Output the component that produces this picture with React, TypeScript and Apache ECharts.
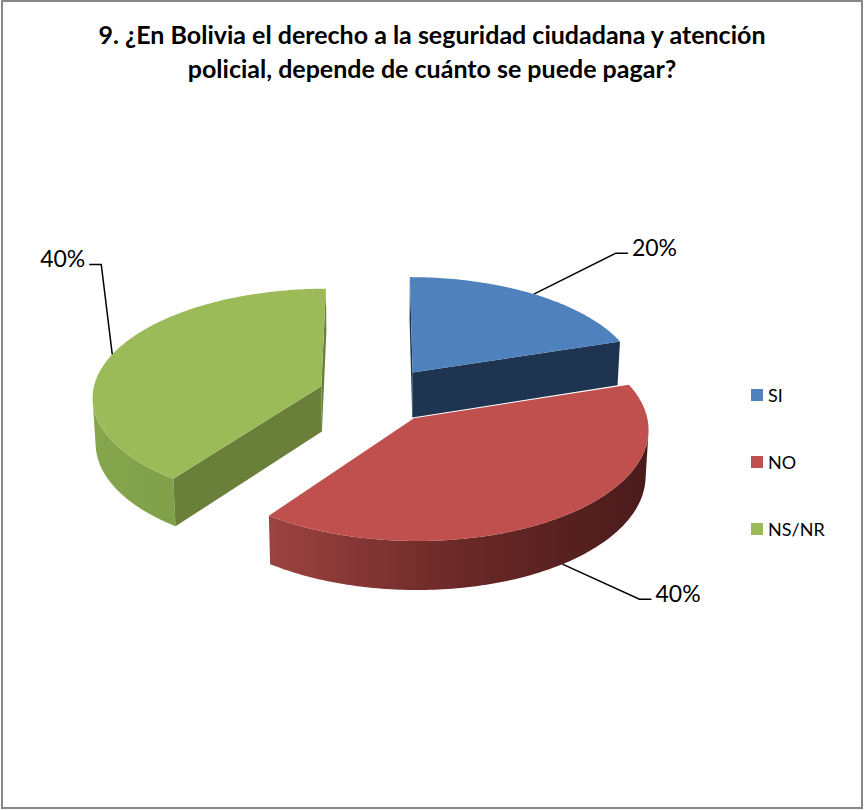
import React, { useEffect, useRef } from 'react';
import * as echarts from 'echarts';

// ---- data ----
const categories = ['SI', 'NO', 'NS/NR'];
const values = [20, 40, 40];
const titleLines = [
  '9. ¿En Bolivia el derecho a la seguridad ciudadana y atención',
  'policial, depende de cuánto se puede pagar?',
];

// ---- style ----
const topColors = ['#4F81BD', '#C0504D', '#9BBB59'];
const sideStops = [
  ['#3B6190', '#22395A'],
  ['#9C4341', '#6A2927', '#4A1B1B'],
  ['#86A64D', '#80A049'],
];
const cutColors = ['#1F3450', '#7A2F2D', '#6A7F3A'];
// leader elbow offsets from anchor, and horizontal direction
const labelElbow = [
  [82, -41, 1],
  [77, 35, 1],
  [-11, -90, -1],
];

const FONT = 'Lato, "Open Sans", "Noto Sans", sans-serif';
const X0 = 378;
const Y0 = 395;
const R = 229;
const EXPLODE = 60;
const DEPTH = 52;
const SIN_A = 0.47;
const COS_A = Math.sqrt(1 - SIN_A * SIN_A);
const PERSP = 2300;

function project(x: number, y: number, z: number): number[] {
  const yv = y * COS_A - z * SIN_A;
  const zv = y * SIN_A + z * COS_A;
  const s = PERSP / (PERSP - zv);
  return [X0 + x * s, Y0 - yv * s];
}

const total = values.reduce((a, b) => a + b, 0);

function makeRenderer(i: number) {
  return function renderItem(params: any, api: any) {
    const v = api.value(0);
    let before = 0;
    for (let j = 0; j < i; j++) before += values[j];
    const a0 = (before / total) * Math.PI * 2;
    const a1 = ((before + v) / total) * Math.PI * 2;
    const mid = (a0 + a1) / 2;
    const ox = EXPLODE * Math.sin(mid);
    const oz = -EXPLODE * Math.cos(mid);
    const rim = (t: number, y: number) => project(ox + R * Math.sin(t), y, oz - R * Math.cos(t));
    const ctrTop = project(ox, 0, oz);
    const ctrBot = project(ox, -DEPTH, oz);
    const camZ = PERSP * COS_A;
    const children: any[] = [];

    // outer curved side
    const steps = Math.max(8, Math.round(((a1 - a0) * 180) / Math.PI));
    const vis = (t: number) => -ox * Math.sin(t) - Math.cos(t) * (camZ - oz) > R;
    let run: number[] = [];
    const flush = () => {
      if (run.length >= 2) {
        const pts: number[][] = [];
        run.forEach((t) => pts.push(rim(t, 0)));
        for (let k = run.length - 1; k >= 0; k--) pts.push(rim(run[k], -DEPTH));
        const stops = sideStops[i];
        children.push({
          type: 'polygon',
          shape: { points: pts },
          style: {
            fill: {
              type: 'linear', x: 0, y: 0, x2: 1, y2: 0, global: false,
              colorStops: stops.map((c, k) => ({ offset: k / (stops.length - 1), color: c })),
            },
          },
        });
      }
      run = [];
    };
    for (let k = 0; k <= steps; k++) {
      const t = a0 + ((a1 - a0) * k) / steps;
      if (vis(t)) run.push(t);
      else flush();
    }
    flush();

    // radial cut faces
    const faceVisible = (nx: number, nz: number) => nx * (0 - ox) + nz * (camZ - oz) > 0;
    const cutFace = (t: number) => ({
      type: 'polygon',
      shape: { points: [ctrTop, rim(t, 0), rim(t, -DEPTH), ctrBot] },
      style: { fill: cutColors[i] },
    });
    if (faceVisible(-Math.cos(a0), -Math.sin(a0))) children.push(cutFace(a0));
    if (faceVisible(Math.cos(a1), Math.sin(a1))) children.push(cutFace(a1));

    // top face
    const topPts: number[][] = [ctrTop];
    for (let k = 0; k <= steps; k++) topPts.push(rim(a0 + ((a1 - a0) * k) / steps, 0));
    children.push({ type: 'polygon', shape: { points: topPts }, style: { fill: topColors[i] } });

    // label with leader line
    const front = Math.cos(mid) < 0;
    const anchor = rim(mid, front ? -DEPTH : 0);
    const [ex, ey, dir] = labelElbow[i];
    const elbow = [anchor[0] + ex, anchor[1] + ey];
    const end = [elbow[0] + 12 * dir, elbow[1]];
    children.push({
      type: 'polyline',
      shape: { points: [anchor, elbow, end] },
      style: { stroke: '#000000', lineWidth: 1.5, fill: null },
    });
    children.push({
      type: 'text',
      style: {
        text: Math.round((v / total) * 100) + '%',
        x: end[0] + 4 * dir,
        y: elbow[1] - 6,
        align: dir > 0 ? 'left' : 'right',
        verticalAlign: 'middle',
        fill: '#000000',
        fontSize: 23,
        fontFamily: FONT,
      },
    });
    return { type: 'group', children };
  };
}

export default function App() {
  const ref = useRef<HTMLDivElement>(null);
  useEffect(() => {
    if (!ref.current) return;
    const chart = echarts.init(ref.current, undefined, { renderer: 'svg' });
    const depthOrder = categories.map((_, i) => {
      let before = 0;
      for (let j = 0; j < i; j++) before += values[j];
      const mid = ((before + values[i] / 2) / total) * Math.PI * 2;
      return -Math.cos(mid);
    });
    chart.setOption({
      animation: false,
      backgroundColor: '#ffffff',
      color: topColors,
      title: {
        text: titleLines.join('\n'),
        left: 'center',
        top: 12,
        textStyle: {
          fontFamily: FONT,
          fontWeight: 'bold',
          fontSize: 25,
          lineHeight: 34,
          color: '#000000',
        },
      },
      legend: {
        data: categories,
        orient: 'vertical',
        left: 746,
        top: 381,
        itemWidth: 12,
        itemHeight: 12,
        itemGap: 49,
        icon: 'rect',
        selectedMode: false,
        textStyle: { fontFamily: FONT, fontSize: 18, color: '#000000' },
      },
      graphic: [
        {
          type: 'rect',
          shape: { x: 2, y: 1, width: 860, height: 807 },
          style: { fill: null, stroke: '#868686', lineWidth: 2 },
          z: 100,
          silent: true,
        },
      ],
      series: categories.map((name, i) => ({
        type: 'custom',
        name,
        coordinateSystem: 'none',
        z: 2 + depthOrder[i] + 1,
        itemStyle: { color: topColors[i] },
        data: [[values[i]]],
        renderItem: makeRenderer(i),
      })),
    });
    return () => chart.dispose();
  }, []);
  return (
    <div
      ref={ref}
      style={{ position: 'absolute', left: 0, top: 0, width: 864, height: 810 }}
    />
  );
}
